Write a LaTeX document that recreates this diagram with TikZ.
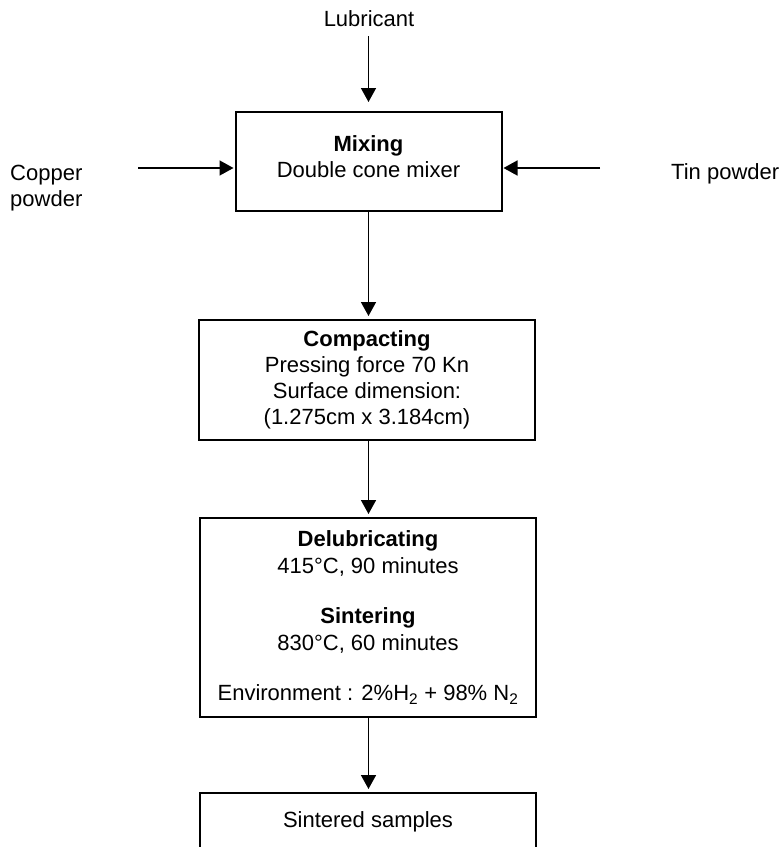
\documentclass[tikz,border=0pt]{standalone}
\usepackage{fontspec}
\setmainfont{Liberation Sans}
\usetikzlibrary{arrows.meta}
\begin{document}
\begin{tikzpicture}[x=1pt,y=-1pt,
  every node/.style={font=\fontsize{22}{26}\selectfont},
  box/.style={draw, line width=2pt, inner sep=0pt},
  txt/.style={inner sep=0pt},
  arr/.style={line width=1.6pt, -{Triangle[length=14pt,width=15pt]}}]
\clip (0,0) rectangle (779,847);
\fill[white] (0,0) rectangle (779,847);
% labels
\node[txt, anchor=base] (lub) at (369,26) {Lubricant};
\node[txt, anchor=north west, align=left] (cu) at (10,164.5) {Copper\\powder};
\node[txt, anchor=base west] (sn) at (671,179) {Tin powder};
% boxes
\node[box, align=center, minimum width=266pt, minimum height=99pt] (mix) at (368.5,161.5)
  {\textbf{Mixing}\\Double cone mixer\rule[-9pt]{0pt}{9pt}};
\node[box, align=center, minimum width=336pt, minimum height=120pt] (comp) at (367,380)
  {\textbf{Compacting}\\Pressing force 70 Kn\\Surface dimension:\\(1.275cm x 3.184cm)};
\node[box, align=center, minimum width=336pt, minimum height=199pt,
  font=\fontsize{22}{27}\selectfont] (delub) at (368,617.5)
  {\textbf{Delubricating}\\415°C, 90 minutes\\[23pt]\textbf{Sintering}\\830°C, 60 minutes\\[23pt]Environment : 2\%H\textsubscript{2} + 98\% N\textsubscript{2}};
\node[box, anchor=north, minimum width=336pt, text height=15.8pt, text depth=80pt,
  inner ysep=18.2pt] (sint) at (368,792) {Sintered samples};
% connectors
\coordinate (cuA) at (138,168);
\coordinate (snA) at (600,168);
\draw[arr, shorten <=10pt, shorten >=9pt] (lub.south -| mix.north) -- (mix.north);
\draw[arr, shorten >=1pt] (cuA) -- (cuA -| mix.west);
\draw[arr, shorten >=1pt] (snA) -- (snA -| mix.east);
\draw[arr, shorten >=3pt] (mix.south) -- (mix.south |- comp.north);
\draw[arr, shorten >=3pt] (mix.south |- comp.south) -- (mix.south |- delub.north);
\draw[arr, shorten >=3pt] (mix.south |- delub.south) -- (mix.south |- sint.north);
\end{tikzpicture}
\end{document}
